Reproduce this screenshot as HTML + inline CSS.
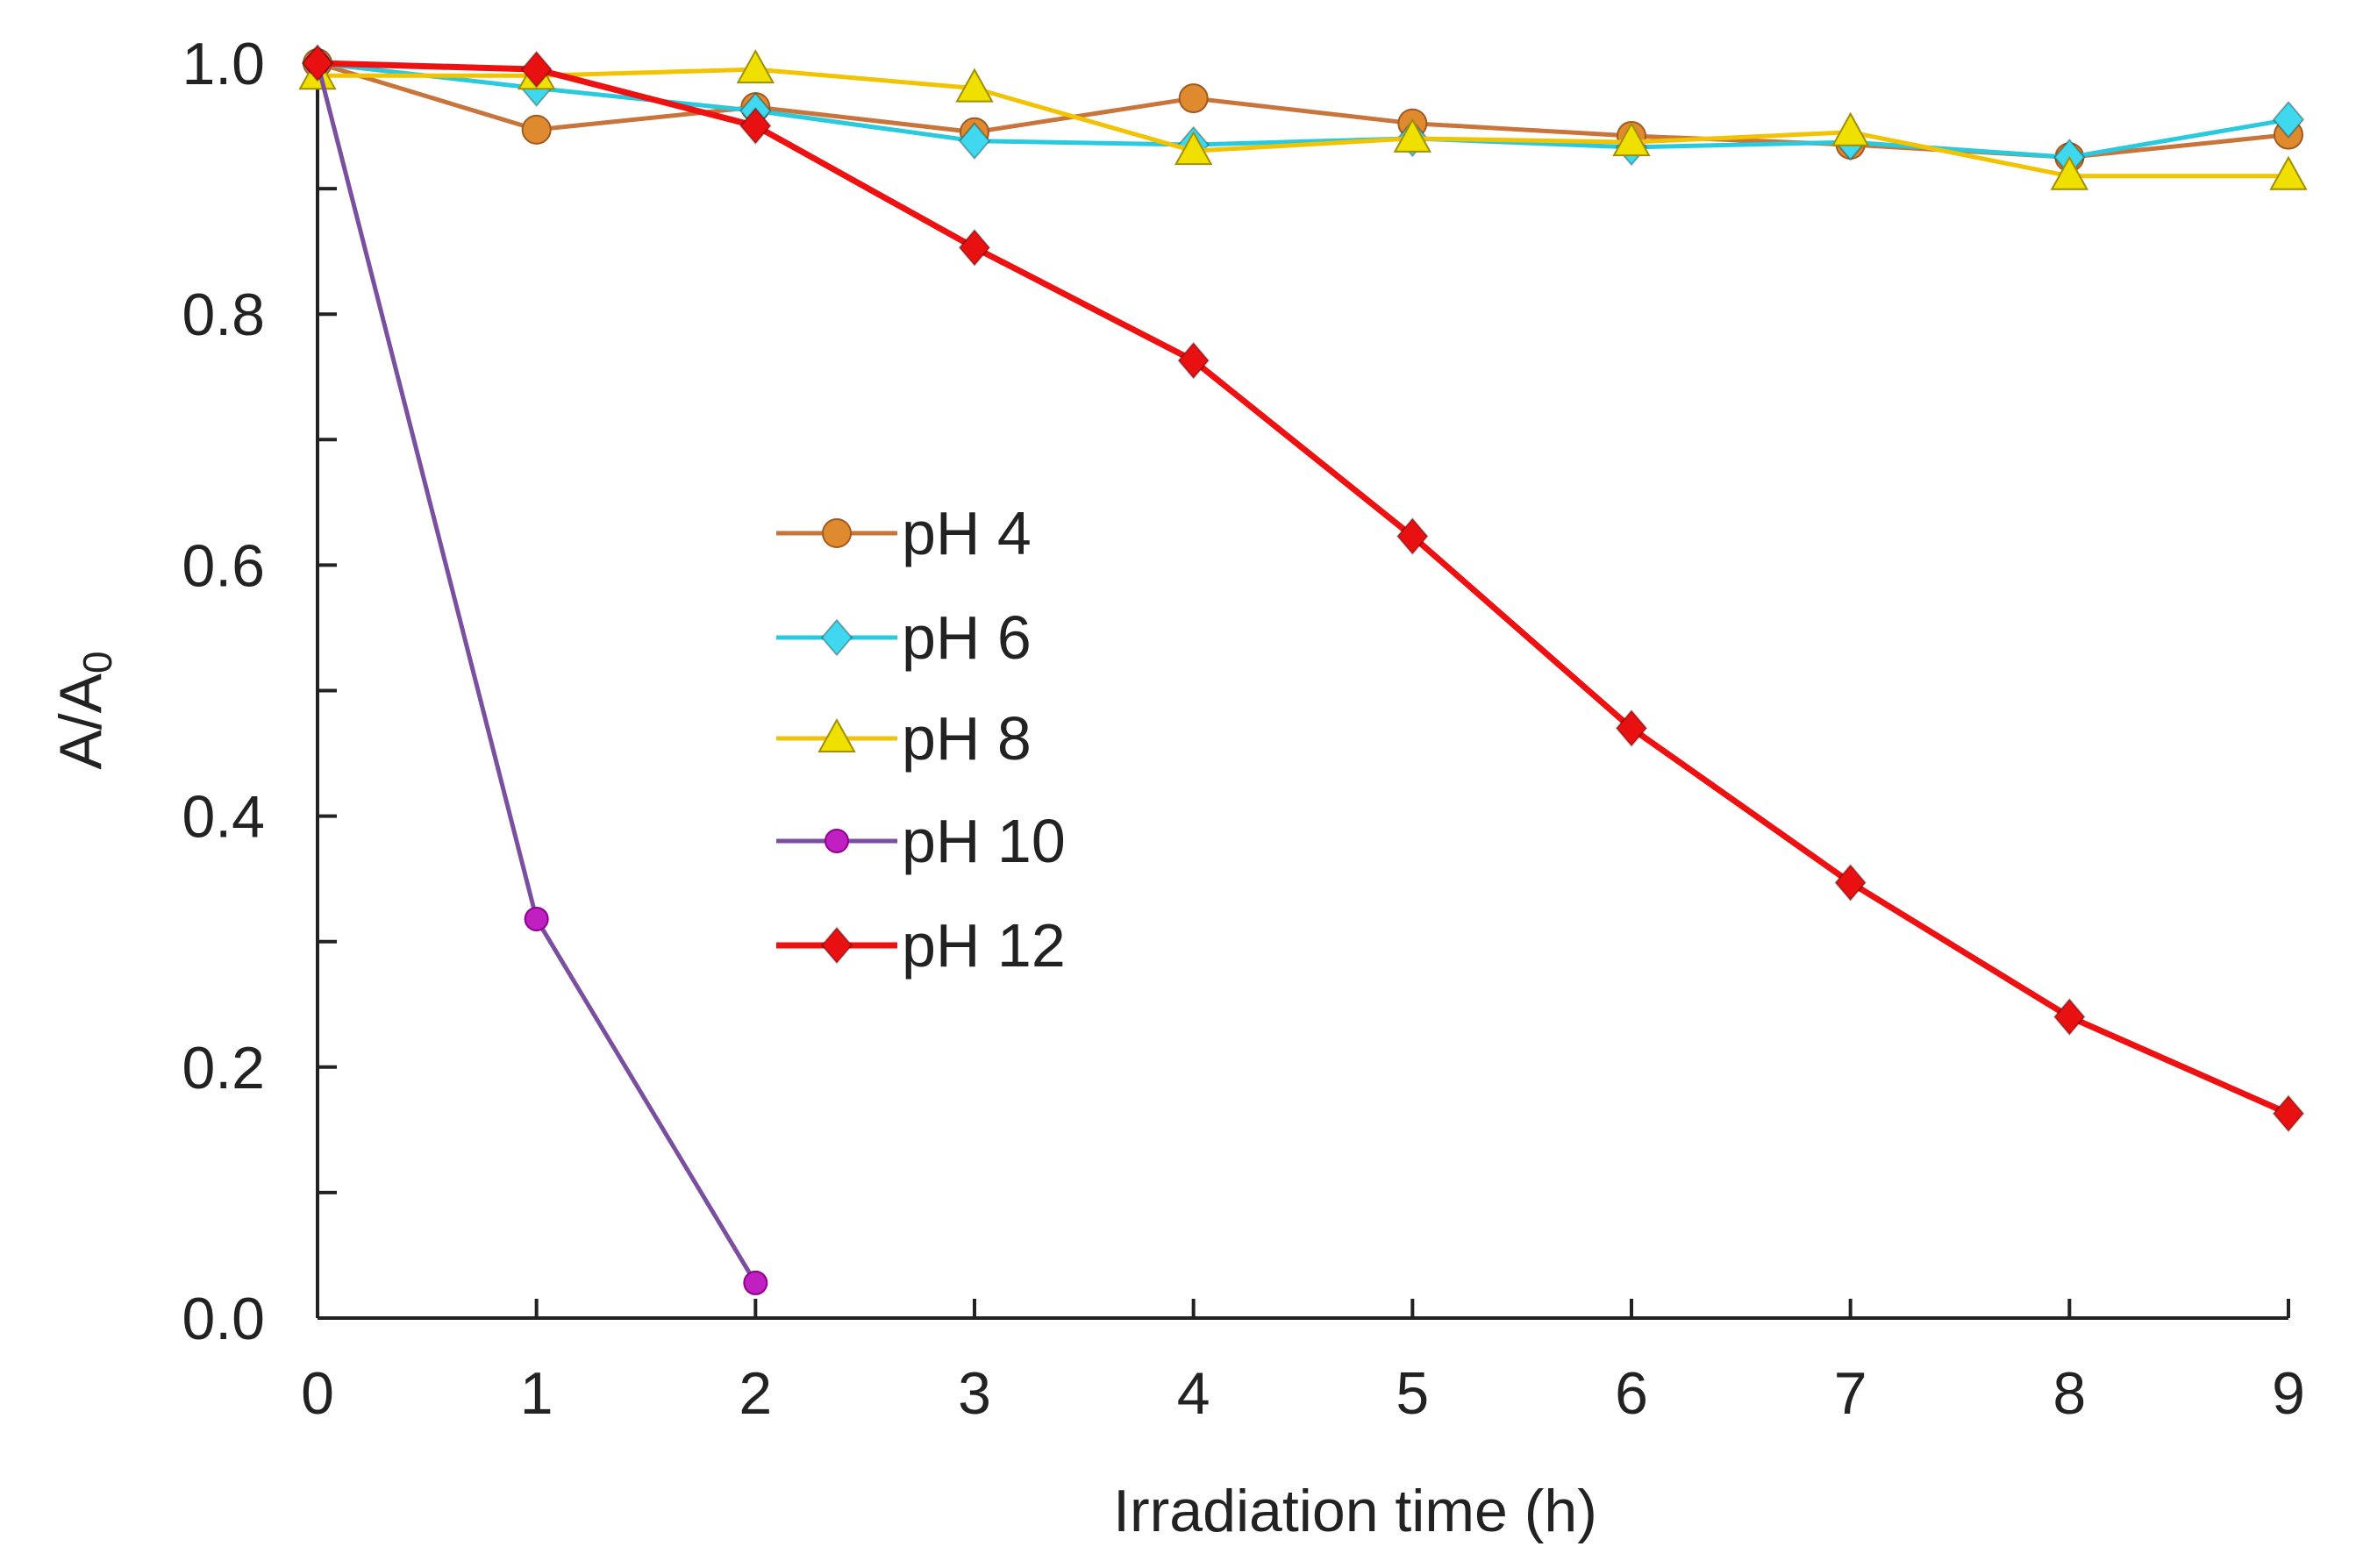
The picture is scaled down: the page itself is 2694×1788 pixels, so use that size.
<!DOCTYPE html>
<html><head><meta charset="utf-8"><style>
html,body{margin:0;padding:0;background:#fff;}
svg{display:block;}
text{font-family:"Liberation Sans",Arial,sans-serif;fill:#222;}
</style></head><body>
<svg id="chart" width="2694" height="1788" viewBox="0 0 2694 1788" xmlns="http://www.w3.org/2000/svg">
<g id="axes"></g>
<g id="series"></g>
<g id="legend"></g>
<text x="1545" y="1746" font-size="68" text-anchor="middle">Irradiation time (h)</text>
<text transform="translate(115,810) rotate(-90)" font-size="68" text-anchor="middle">A/A<tspan font-size="46" dy="12">0</tspan></text>
</svg>
<script>
const xTicks=[0,1,2,3,4,5,6,7,8,9];
const yTicks=[0.0,0.2,0.4,0.6,0.8,1.0];
const seriesNames=["pH 4","pH 6","pH 8","pH 10","pH 12"];
const ph4=[1.0,0.947,0.965,0.945,0.972,0.952,0.942,0.935,0.925,0.943];
const ph6=[1.0,0.98,0.962,0.938,0.935,0.94,0.933,0.937,0.925,0.955];
const ph8=[0.99,0.99,0.995,0.98,0.93,0.94,0.937,0.945,0.91,0.91];
const ph10=[1.0,0.318,0.028];
const ph12=[1.0,0.995,0.95,0.853,0.763,0.623,0.47,0.347,0.24,0.163];
const NS="http://www.w3.org/2000/svg";
const X0=362,X1=2609,Y0=1503,Y1=72;
const xs=v=>X0+(X1-X0)*v/9;
const ys=v=>Y0-(Y0-Y1)*v/1.0;
function mk(t,a,p){const e=document.createElementNS(NS,t);for(const k in a)e.setAttribute(k,a[k]);p.appendChild(e);return e;}
const axes=document.getElementById('axes');
let l=mk('line',{x1:X0,y1:Y0,x2:X1,y2:Y0,stroke:'#222','stroke-width':4},axes);


l=mk('line',{x1:X0,y1:Y0,x2:X0,y2:Y1,stroke:'#222','stroke-width':4},axes);


xTicks.forEach(t=>{
  const tk=mk('line',{x1:xs(t),y1:Y0,x2:xs(t),y2:Y0-22,stroke:'#222','stroke-width':4},axes);
  
  
  const tx=mk('text',{x:xs(t),y:1612,'font-size':68,'text-anchor':'middle'},axes);
  tx.textContent=t;
  
  
});
for(let i=0;i<=10;i++){
  const v=i/10;
  const tk=mk('line',{x1:X0,y1:ys(v),x2:X0+22,y2:ys(v),stroke:'#222','stroke-width':4},axes);
  
  
}
yTicks.forEach(t=>{
  const tx=mk('text',{x:302,y:ys(t)+24,'font-size':68,'text-anchor':'end'},axes);
  tx.textContent=t.toFixed(1);
  
  
});
const colors=["#c8743a","#29c9de","#f2c300","#7a4fa0","#ee1111"];
const markFill=["#e08a30","#3fd8ee","#f0e000","#c020c0","#e81010"];
const shapes=["circle","diamond","triangle","smallcircle","diamond"];
const data=[ph4,ph6,ph8,ph10,ph12];
const widths=[5,5,5,5,7];
const sg=document.getElementById('series');
function marker(shape,x,y,fill,parent,name){
  let e;
  if(shape==="circle")e=mk('circle',{cx:x,cy:y,r:16,fill:fill,stroke:'#a05a20','stroke-width':2},parent);
  else if(shape==="smallcircle")e=mk('circle',{cx:x,cy:y,r:13,fill:fill,stroke:'#900090','stroke-width':2},parent);
  else if(shape==="diamond")e=mk('polygon',{points:`${x},${y-20} ${x+17},${y} ${x},${y+20} ${x-17},${y}`,fill:fill,stroke:'rgba(0,0,0,0.3)','stroke-width':2},parent);
  else e=mk('polygon',{points:`${x},${y-21} ${x+20},${y+15} ${x-20},${y+15}`,fill:fill,stroke:'#a09000','stroke-width':2},parent);
  
  
}
data.forEach((arr,si)=>{
  const g=mk('g',{},sg);
  
  
  const pts=arr.map((v,i)=>xs(xTicks[i])+','+ys(v)).join(' ');
  const pl=mk('polyline',{points:pts,fill:'none',stroke:colors[si],'stroke-width':widths[si],'stroke-linejoin':'round'},g);
  
  
  arr.forEach((v,i)=>marker(shapes[si],xs(xTicks[i]),ys(v),markFill[si],g,'point'));
});
const lg=document.getElementById('legend');
const rows=[608,727,842,959,1078];
seriesNames.forEach((n,i)=>{
  const g=mk('g',{},lg);
  
  
  const ln=mk('line',{x1:885,y1:rows[i],x2:1023,y2:rows[i],stroke:colors[i],'stroke-width':widths[i]},g);
  
  
  marker(shapes[i],954,rows[i],markFill[i],g,'legend-marker');
  const t=mk('text',{x:1028,y:rows[i]+24,'font-size':70},g);
  t.textContent=n;
  
  
});
</script>
</body></html>
